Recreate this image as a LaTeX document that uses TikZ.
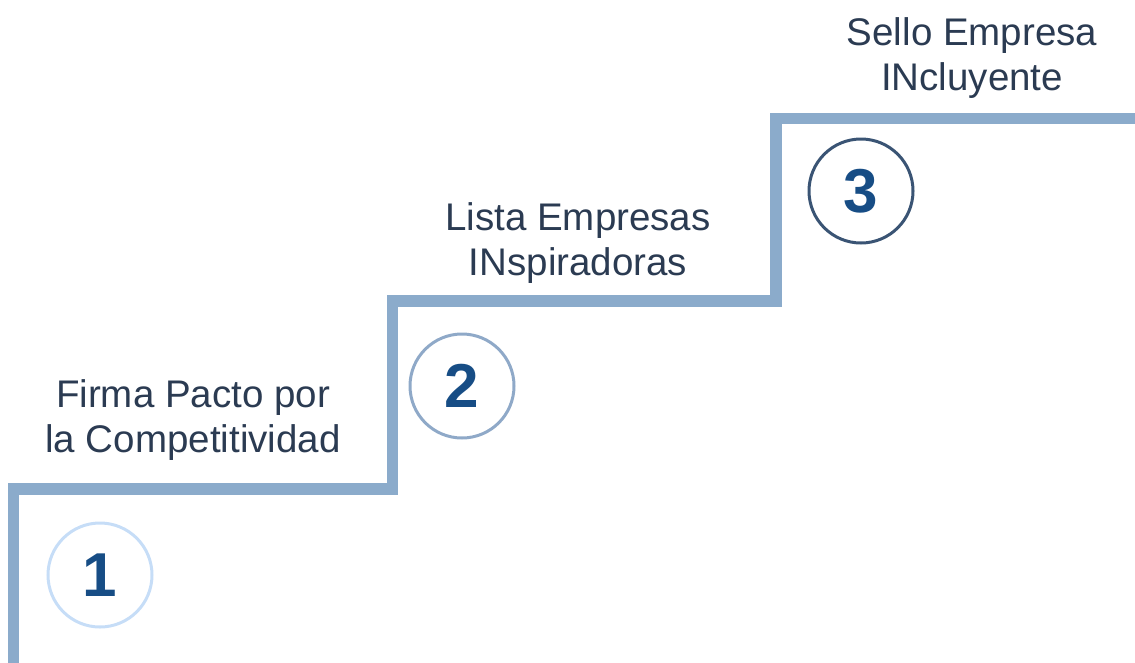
\documentclass[tikz,border=0pt]{standalone}
\usepackage{fontspec}
\setmainfont{Liberation Sans}
\definecolor{stair}{HTML}{8BABCB}
\definecolor{cone}{HTML}{C6DDF7}
\definecolor{ctwo}{HTML}{8FA9C8}
\definecolor{cthree}{HTML}{3A5474}
\definecolor{numc}{HTML}{174D85}
\definecolor{txtc}{HTML}{2B3B52}
\begin{document}
\begin{tikzpicture}[x=1pt,y=-1pt,
  stairline/.style={draw=stair,line width=11.5pt,line join=miter},
  stepcircle/.style={circle,minimum size=104pt,inner sep=0pt,line width=3pt,text=numc,font=\fontsize{62}{62}\selectfont\bfseries},
  steplabel/.style={text=txtc,align=center,font=\fontsize{38.5}{45}\selectfont,inner sep=0pt}]
\useasboundingbox (0,0) rectangle (1135,662);
\coordinate (s0) at (13.5,670);
\coordinate (s1) at (13.5,489);
\coordinate (s2) at (392.5,489);
\coordinate (s3) at (392.5,301);
\coordinate (s4) at (776,301);
\coordinate (s5) at (776,118.5);
\coordinate (s6) at (1145,118.5);
\draw[stairline] (s0) -- (s1) -- (s2) -- (s3) -- (s4) -- (s5) -- (s6);
\node[stepcircle,draw=cone] (c1) at (100,575) {1};
\node[stepcircle,draw=ctwo] (c2) at (462,386) {2};
\node[stepcircle,draw=cthree] (c3) at (861,191) {3};
\node[steplabel] (t1) at (193,420) {Firma Pacto por\\la Competitividad};
\node[steplabel] (t2) at (578,243) {Lista Empresas\\INspiradoras};
\node[steplabel] (t3) at (972,58) {Sello Empresa\\INcluyente};
\end{tikzpicture}
\end{document}
